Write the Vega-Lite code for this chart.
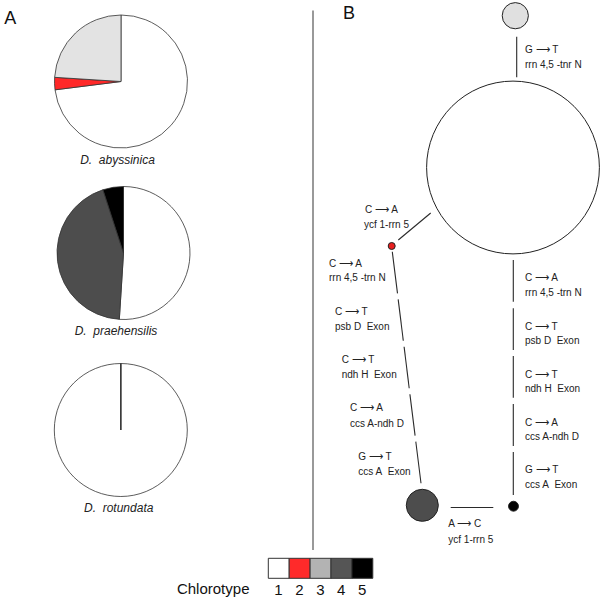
{
  "$schema": "https://vega.github.io/schema/vega-lite/v6.json",
  "width": 603,
  "height": 599,
  "padding": 0,
  "autosize": {"type": "fit", "contains": "padding"},
  "background": "#ffffff",
  "config": {"view": {"stroke": null}, "font": "Liberation Sans", "text": {"font": "Liberation Sans"}},
  "resolve": {"scale": {"color": "independent"}},
  "encoding": {
    "x": {"field": "x", "type": "quantitative", "scale": {"domain": [0, 603], "nice": false, "zero": false}, "axis": null},
    "y": {"field": "y", "type": "quantitative", "scale": {"domain": [0, 599], "nice": false, "zero": false, "reverse": true}, "axis": null}
  },
  "layer": [
    {
      "data": {"values": [{"x": 313, "y": 10.5, "y2": 550}]},
      "mark": {"type": "rule", "color": "#555555", "strokeWidth": 1.2},
      "encoding": {"y2": {"field": "y2"}}
    },
    {
      "data": {"values": [
        {"species": "D. abyssinica", "chl": "1", "share": 0.73, "x": 121, "y": 81.5},
        {"species": "D. abyssinica", "chl": "2", "share": 0.03, "x": 121, "y": 81.5},
        {"species": "D. abyssinica", "chl": "3", "share": 0.24, "x": 121, "y": 81.5},
        {"species": "D. praehensilis", "chl": "1", "share": 0.51, "x": 123.5, "y": 253},
        {"species": "D. praehensilis", "chl": "4", "share": 0.44, "x": 123.5, "y": 253},
        {"species": "D. praehensilis", "chl": "5", "share": 0.05, "x": 123.5, "y": 253},
        {"species": "D. rotundata", "chl": "1", "share": 1.0, "x": 120.8, "y": 430},
        {"species": "D. rotundata", "chl": "2", "share": 0.0, "x": 120.8, "y": 430}
      ]},
      "transform": [
        {"stack": "share", "groupby": ["species"], "sort": [{"field": "chl", "order": "ascending"}], "offset": "normalize", "as": ["t0", "t1"]}
      ],
      "mark": {"type": "arc", "radius": 66.5, "stroke": "#333333", "strokeWidth": 0.8},
      "encoding": {
        "theta": {"field": "t0", "type": "quantitative", "stack": null, "scale": {"domain": [0, 1], "range": [0, 6.283185307]}},
        "theta2": {"field": "t1"},
        "color": {"field": "chl", "type": "nominal", "legend": null,
          "scale": {"domain": ["1", "2", "3", "4", "5"], "range": ["#ffffff", "#ff2828", "#e3e3e3", "#4d4d4d", "#000000"]}}
      }
    },
    {
      "data": {"values": [
        {"label": "D.\u00a0 abyssinica", "x": 117.5, "y": 160},
        {"label": "D.\u00a0 praehensilis", "x": 116, "y": 330.7},
        {"label": "D.\u00a0 rotundata", "x": 118.7, "y": 507.7}
      ]},
      "mark": {"type": "text", "fontSize": 12, "fontStyle": "italic", "align": "center", "baseline": "middle", "color": "#222222"},
      "encoding": {"text": {"field": "label"}}
    },
    {
      "data": {"values": [
        {"x": 516.7, "y": 36.7, "x2": 516.7, "y2": 77.3},
        {"x": 398.3, "y": 240, "x2": 430.7, "y2": 213},
        {"x": 392.3, "y": 251.7, "x2": 397.5, "y2": 293.4},
        {"x": 398.2, "y": 299.4, "x2": 403.3, "y2": 340.8},
        {"x": 404.1, "y": 346.8, "x2": 409.2, "y2": 388.2},
        {"x": 409.9, "y": 394.2, "x2": 415.1, "y2": 435.6},
        {"x": 415.8, "y": 441.6, "x2": 421.0, "y2": 483.3},
        {"x": 513.3, "y": 260, "x2": 513.3, "y2": 301.7},
        {"x": 513.3, "y": 308.3, "x2": 513.3, "y2": 350},
        {"x": 513.3, "y": 356, "x2": 513.3, "y2": 397.7},
        {"x": 513.3, "y": 404, "x2": 513.3, "y2": 446},
        {"x": 513.3, "y": 452, "x2": 513.3, "y2": 495},
        {"x": 450.7, "y": 507.5, "x2": 493.3, "y2": 507.5}
      ]},
      "mark": {"type": "rule", "color": "#2a2a2a", "strokeWidth": 1.1},
      "encoding": {"x2": {"field": "x2"}, "y2": {"field": "y2"}}
    },
    {
      "data": {"values": [
        {"node": "top", "chl": "3", "n": 14, "x": 515.3, "y": 15.7},
        {"node": "main", "chl": "1", "n": 610, "x": 513, "y": 167.5},
        {"node": "red", "chl": "2", "n": 1, "x": 391.7, "y": 246},
        {"node": "dark", "chl": "4", "n": 21, "x": 422.3, "y": 505.3},
        {"node": "black", "chl": "5", "n": 2, "x": 513.5, "y": 506.2}
      ]},
      "mark": {"type": "point", "shape": "circle", "filled": true, "opacity": 1, "stroke": "#222222", "strokeWidth": 1},
      "encoding": {
        "size": {"field": "n", "type": "quantitative", "legend": null, "scale": {"type": "linear", "zero": true, "domain": [0, 610], "range": [0, 29860]}},
        "color": {"field": "chl", "type": "nominal", "legend": null,
          "scale": {"domain": ["1", "2", "3", "4", "5"], "range": ["#ffffff", "#e82020", "#e0e0e0", "#4d4d4d", "#000000"]}}
      }
    },
    {
      "data": {"values": [
        {"t": "G ⟶ T", "x": 525, "y": 50},
        {"t": "rrn 4,5 -tnr N", "x": 525, "y": 65},
        {"t": "C ⟶ A", "x": 365, "y": 210},
        {"t": "ycf 1-rrn 5", "x": 364, "y": 224.5},
        {"t": "C ⟶ A", "x": 329, "y": 264},
        {"t": "rrn 4,5 -trn N", "x": 329, "y": 278.3},
        {"t": "C ⟶ T", "x": 335, "y": 311.7},
        {"t": "psb D\u00a0 Exon", "x": 335, "y": 326.7},
        {"t": "C ⟶ T", "x": 341.7, "y": 360},
        {"t": "ndh H\u00a0 Exon", "x": 341.7, "y": 375},
        {"t": "C ⟶ A", "x": 350, "y": 408.3},
        {"t": "ccs A-ndh D", "x": 350, "y": 424},
        {"t": "G ⟶ T", "x": 358.3, "y": 456.7},
        {"t": "ccs A\u00a0 Exon", "x": 358.3, "y": 471.7},
        {"t": "C ⟶ A", "x": 525, "y": 278.3},
        {"t": "rrn 4,5 -trn N", "x": 525, "y": 293.3},
        {"t": "C ⟶ T", "x": 525, "y": 326.7},
        {"t": "psb D\u00a0 Exon", "x": 525, "y": 340.7},
        {"t": "C ⟶ T", "x": 525, "y": 375},
        {"t": "ndh H\u00a0 Exon", "x": 525, "y": 389},
        {"t": "C ⟶ A", "x": 525, "y": 422.7},
        {"t": "ccs A-ndh D", "x": 525, "y": 436.7},
        {"t": "G ⟶ T", "x": 525, "y": 470},
        {"t": "ccs A\u00a0 Exon", "x": 525, "y": 485},
        {"t": "A ⟶ C", "x": 448.3, "y": 524.3},
        {"t": "ycf 1-rrn 5", "x": 448.3, "y": 540}
      ]},
      "mark": {"type": "text", "fontSize": 10, "align": "left", "baseline": "middle", "color": "#222222"},
      "encoding": {"text": {"field": "t"}}
    },
    {
      "data": {"values": [
        {"k": "1", "x": 268.3, "x2": 289.2, "y": 558.3, "y2": 578.3},
        {"k": "2", "x": 289.2, "x2": 310.1, "y": 558.3, "y2": 578.3},
        {"k": "3", "x": 310.1, "x2": 331.0, "y": 558.3, "y2": 578.3},
        {"k": "4", "x": 331.0, "x2": 351.9, "y": 558.3, "y2": 578.3},
        {"k": "5", "x": 351.9, "x2": 372.8, "y": 558.3, "y2": 578.3}
      ]},
      "mark": {"type": "rect", "stroke": "#333333", "strokeWidth": 1},
      "encoding": {
        "x2": {"field": "x2"},
        "y2": {"field": "y2"},
        "color": {"field": "k", "type": "nominal", "legend": null,
          "scale": {"domain": ["1", "2", "3", "4", "5"], "range": ["#ffffff", "#ff2a2a", "#b3b3b3", "#555555", "#000000"]}}
      }
    },
    {
      "data": {"values": [
        {"t": "Chlorotype", "x": 213.2, "y": 589},
        {"t": "1", "x": 278.5, "y": 589.5},
        {"t": "2", "x": 299.4, "y": 589.5},
        {"t": "3", "x": 320.3, "y": 589.5},
        {"t": "4", "x": 341.2, "y": 589.5},
        {"t": "5", "x": 362.1, "y": 589.5}
      ]},
      "mark": {"type": "text", "fontSize": 15, "align": "center", "baseline": "middle", "color": "#111111"},
      "encoding": {"text": {"field": "t"}}
    },
    {
      "data": {"values": [
        {"t": "A", "x": 10.3, "y": 19},
        {"t": "B", "x": 349, "y": 13.5}
      ]},
      "mark": {"type": "text", "fontSize": 18, "align": "center", "baseline": "middle", "color": "#111111"},
      "encoding": {"text": {"field": "t"}}
    }
  ]
}
